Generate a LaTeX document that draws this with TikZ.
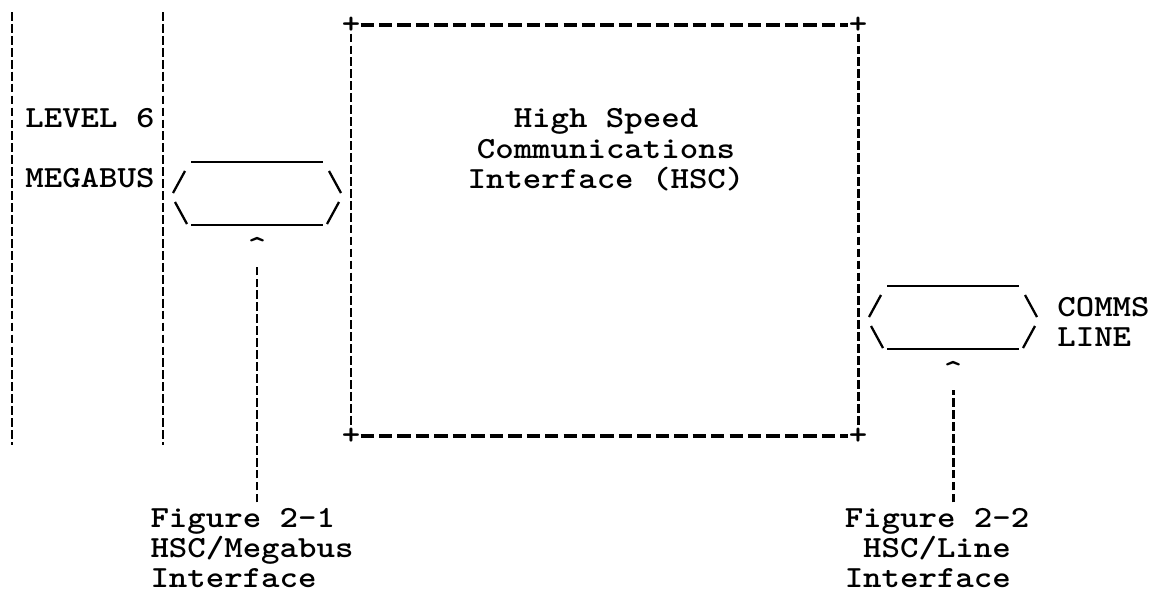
\documentclass[tikz,border=0pt]{standalone}
\usepackage{fontspec}
\newfontfamily\typewriter{lmmonolt10-bold.otf}[FakeStretch=1.143]
\usetikzlibrary{positioning}
\setlength{\lineskiplimit}{-20pt}

\begin{document}
\begin{tikzpicture}[x=0.02cm, y=-0.02cm,
        typed/.style={font=\typewriter\fontsize{17.5}{17.3}\selectfont, inner sep=0pt},
        bus/.style={line width=1.7pt, dash pattern=on 5pt off 1.8pt},
        border/.style={line width=2pt, dash pattern=on 7.6pt off 2.9pt},
        under/.style={line width=1.3pt}]

        \useasboundingbox (0,0) rectangle (1155,600);

        % Draw the Level 6 megabus lanes
        \draw[bus] (12,12) -- (12,445);
        \draw[bus] (163,12) -- (163,445);
        \node[typed, anchor=west] (level) at (25,118) {LEVEL 6};
        \node[typed, anchor=west] (megabus) at (25,178) {MEGABUS};

        % Draw the HSC box with its corners
        \node[typed] (tl) at (351,25) {+};
        \node[typed] (tr) at (858,25) {+};
        \node[typed] (bl) at (351,436) {+};
        \node[typed] (br) at (858,436) {+};
        \draw[border] (tl) -- (tr);
        \draw[border] (bl) -- (br);
        \draw[bus] (tl) -- (bl);
        \draw[bus] (tr) -- (br);
        \node[typed, align=center] (hsc) at (606,150) {High Speed\\Communications\\Interface (HSC)};

        % Draw the two interface ports
        \foreach \cx/\cy/\port in {257/194/up1, 953/318/up2} {
            \begin{scope}[shift={(\cx,\cy)}]
                \draw[under] (-66,-32) -- (66,-32);
                \draw[under] (-66,31) -- (66,31);
                \draw[under] (-84,-1) -- (-72,-23);
                \draw[under] (72,-23) -- (84,-1);
                \draw[under] (-82,8) -- (-70,30);
                \draw[under] (70,30) -- (82,8);
                \node[typed, anchor=base] (\port) at (0,62) {\textasciicircum};
            \end{scope}
        }
        \node[typed, align=left, anchor=west] (comms) at (1057,322) {COMMS\\LINE};

        % Label the interfaces
        \node[typed, align=left] (fig1) at (252,548) {Figure 2-1\\HSC/Megabus\\Interface};
        \node[typed, align=left] (fig2) at (937,548) {Figure 2-2\\\hphantom{I}HSC/Line\\Interface};
        \draw[bus, shorten <=3pt, shorten >=5.5pt] (fig1.north -| up1) -- (up1);
        \draw[bus, shorten <=3pt, shorten >=5.5pt] (fig2.north -| up2) -- (up2);

    \end{tikzpicture}
\end{document}
